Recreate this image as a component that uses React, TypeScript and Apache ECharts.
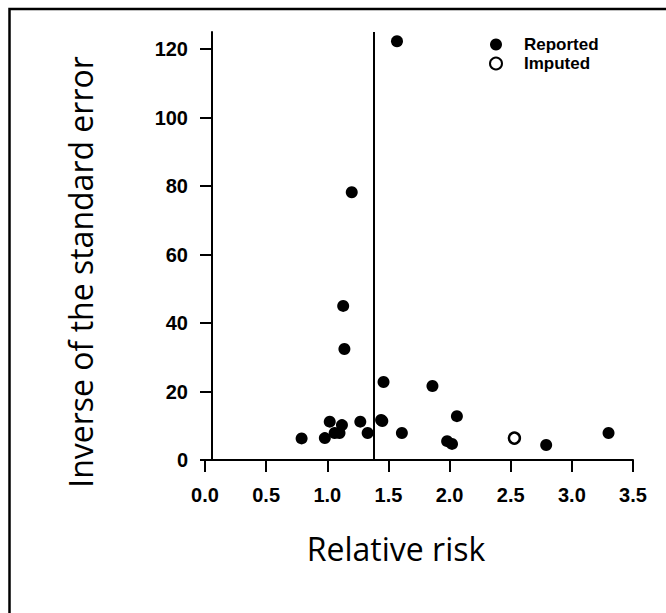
import React, { useEffect, useRef } from "react";
import * as echarts from "echarts";

const reportedX = [1.57, 1.20, 1.13, 1.14, 1.46, 1.86, 2.06, 1.45, 1.61, 1.98, 2.02, 2.79, 3.30, 0.79, 1.02, 0.98, 1.06, 1.12, 1.10, 1.27, 1.33, 1.44];
const reportedY = [122.3, 78.2, 45.0, 32.4, 22.8, 21.6, 12.8, 11.4, 7.9, 5.5, 4.7, 4.4, 7.9, 6.3, 11.2, 6.4, 7.9, 10.2, 7.9, 11.2, 7.9, 11.7];
const imputedX = [2.53];
const imputedY = [6.4];
const overallRR = 1.375;
const yTicks = [0, 20, 40, 60, 80, 100, 120];
const xTitle = "Relative risk";
const yTitle = "Inverse of the standard error";

export default function App() {
  const ref = useRef<HTMLDivElement>(null);
  useEffect(() => {
    if (!ref.current) return;
    const chart = echarts.init(ref.current, null, { renderer: "svg" });
    const labelFont = {
      color: "#000",
      fontFamily: "Liberation Sans, Arial, sans-serif",
      fontWeight: "bold" as const,
      fontSize: 20,
    };
    chart.setOption({
      animation: false,
      backgroundColor: "#fff",
      grid: { left: 205, right: 33, top: 32, bottom: 153 },
      legend: {
        orient: "vertical",
        left: 484,
        top: 31,
        itemGap: 2,
        itemWidth: 46,
        itemHeight: 12,
        icon: "circle",
        textStyle: { color: "#000", fontFamily: "Liberation Sans, Arial, sans-serif", fontWeight: "bold", fontSize: 17 },
        data: ["Reported", "Imputed"],
      },
      xAxis: {
        type: "value",
        min: 0,
        max: 3.5,
        interval: 0.5,
        splitLine: { show: false },
        axisLine: { onZero: false, lineStyle: { color: "#000", width: 2 } },
        axisTick: { length: 12, lineStyle: { color: "#000", width: 2 } },
        axisLabel: { ...labelFont, margin: 25, formatter: (v: number) => v.toFixed(1) },
      },
      yAxis: {
        type: "value",
        min: 0,
        max: 125,
        offset: -7,
        splitLine: { show: false },
        axisLine: { show: true, onZero: false, lineStyle: { color: "#000", width: 2 } },
        axisTick: { show: true, length: 12, customValues: yTicks, lineStyle: { color: "#000", width: 2 } },
        axisLabel: { ...labelFont, margin: 24, customValues: yTicks },
      },
      graphic: [
        {
          type: "rect",
          shape: { x: 9.5, y: 9, width: 700, height: 700 },
          style: { fill: "none", stroke: "#000", lineWidth: 2.5 },
          silent: true,
        },
        {
          type: "text",
          x: 80,
          y: 272,
          rotation: Math.PI / 2,
          style: {
            text: yTitle,
            align: "center",
            verticalAlign: "middle",
            fill: "#000",
            font: "32px 'Open Sans', sans-serif",
          },
        },
        {
          type: "text",
          x: 396,
          y: 548,
          style: {
            text: xTitle,
            align: "center",
            verticalAlign: "middle",
            fill: "#000",
            font: "32px 'Open Sans', sans-serif",
          },
        },
      ],
      series: [
        {
          name: "Reported",
          type: "scatter",
          symbol: "circle",
          symbolSize: 12,
          itemStyle: { color: "#000", opacity: 1 },
          data: reportedX.map((x, i) => [x, reportedY[i]]),
          markLine: {
            silent: true,
            symbol: "none",
            label: { show: false },
            lineStyle: { color: "#000", width: 2, type: "solid", opacity: 1 },
            data: [{ xAxis: overallRR }],
          },
        },
        {
          name: "Imputed",
          type: "scatter",
          symbol: "circle",
          symbolSize: 11,
          itemStyle: { color: "#fff", borderColor: "#000", borderWidth: 2.5, opacity: 1 },
          data: imputedX.map((x, i) => [x, imputedY[i]]),
        },
      ],
    });
    return () => chart.dispose();
  }, []);
  return <div ref={ref} style={{ position: "fixed", left: 0, top: 0, width: 666, height: 613 }} />;
}
